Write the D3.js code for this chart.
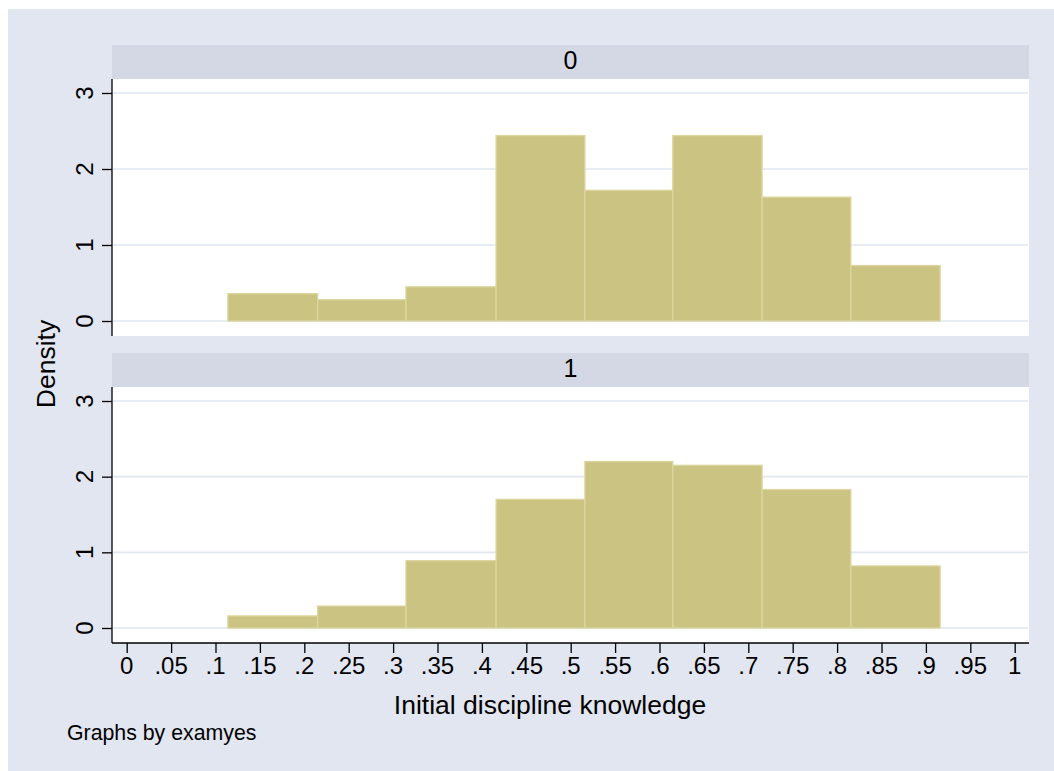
<!DOCTYPE html>
<html lang="en">
  <head>
    <meta charset="utf-8">
    <title>Histogram by examyes</title>
    <script src="https://d3js.org/d3.v7.min.js"></script>
    <style>
      body { margin: 0; background: white; }
      svg { display: block; font-family: "Liberation Sans", Arial, Helvetica, sans-serif; }
    </style>
  </head>
  <body>
    <script>
      // histogram bins (edges) and densities per examyes group
      const groups = ["0", "1"];
      const binEdges = [0.114, 0.215, 0.3145, 0.416, 0.516, 0.615, 0.7155, 0.8155, 0.916];
      const density0 = [0.36, 0.28, 0.45, 2.44, 1.72, 2.44, 1.63, 0.73];
      const density1 = [0.16, 0.29, 0.89, 1.70, 2.20, 2.15, 1.83, 0.82];
      const yTicks = [0, 1, 2, 3];
      const xTicks = [0, .05, .1, .15, .2, .25, .3, .35, .4, .45, .5, .55, .6, .65, .7, .75, .8, .85, .9, .95, 1];
      const xTickLabels = ["0", ".05", ".1", ".15", ".2", ".25", ".3", ".35", ".4", ".45", ".5", ".55", ".6", ".65", ".7", ".75", ".8", ".85", ".9", ".95", "1"];

      const width = 1054, height = 771;
      const plotLeft = 112, plotRight = 1029;
      const panels = [
        { label: groups[0], values: density0, headTop: 45, top: 79, bottom: 336 },
        { label: groups[1], values: density1, headTop: 353, top: 387, bottom: 643 }
      ];

      const svg = d3.select("body").append("svg")
                    .attr("width", width)
                    .attr("height", height);

      svg.append("rect")
         .attr("x", 8).attr("y", 9)
         .attr("width", width - 8).attr("height", height - 9)
         .attr("fill", "#e2e6f0");

      const x = d3.scaleLinear().domain([0, 1]).range([126.7, 1014.7]);

      panels.forEach((p) => {
        const y = d3.scaleLinear().domain([0, 3]).range([p.bottom - 15, p.top + 14]);

        // header strip
        svg.append("rect")
           .attr("x", plotLeft).attr("y", p.headTop)
           .attr("width", plotRight - plotLeft).attr("height", p.top - p.headTop)
           .attr("fill", "#d3d8e4");
        svg.append("text")
           .attr("x", (plotLeft + plotRight) / 2).attr("y", p.headTop + 24)
           .attr("text-anchor", "middle")
           .style("font-size", "25px")
           .text(p.label);

        // plot area
        svg.append("rect")
           .attr("x", plotLeft).attr("y", p.top)
           .attr("width", plotRight - plotLeft).attr("height", p.bottom - p.top)
           .attr("fill", "white");

        svg.append("g").selectAll("line").data(yTicks).enter().append("line")
           .attr("x1", plotLeft + 1).attr("x2", plotRight - 1)
           .attr("y1", (d) => y(d)).attr("y2", (d) => y(d))
           .attr("stroke", "#e1e6f0")
           .attr("stroke-width", 1.6);

        const bins = p.values.map((v, i) => ({ x0: binEdges[i], x1: binEdges[i + 1], v: v }));
        svg.append("g").selectAll("rect").data(bins).enter().append("rect")
           .attr("x", (d) => x(d.x0))
           .attr("width", (d) => x(d.x1) - x(d.x0))
           .attr("y", (d) => y(d.v))
           .attr("height", (d) => y(0) - y(d.v))
           .attr("fill", "#cbc381")
           .attr("stroke", "#dcd6a0")
           .attr("stroke-width", 1.3);

        // y axis
        const yAxis = svg.append("g")
           .attr("transform", `translate(${plotLeft},0)`)
           .call(d3.axisLeft(y).tickValues(yTicks).tickSize(10).tickFormat(""));
        yAxis.select(".domain").remove();
        yAxis.append("line")
             .attr("x1", 0).attr("x2", 0)
             .attr("y1", p.top).attr("y2", p.bottom)
             .attr("stroke", "black").attr("stroke-width", 1.3);
        yAxis.selectAll(".tick line").attr("stroke", "black").attr("stroke-width", 1.3);
        svg.append("g").selectAll("text").data(yTicks).enter().append("text")
           .attr("transform", (d) => `translate(93,${y(d)}) rotate(-90)`)
           .attr("text-anchor", "middle")
           .style("font-size", "24px")
           .text((d) => d);
      });

      // x axis at the bottom panel
      const last = panels[1];
      const xAxis = svg.append("g")
         .attr("transform", `translate(0,${last.bottom})`)
         .call(d3.axisBottom(x).tickValues(xTicks).tickSize(10).tickFormat(""));
      xAxis.select(".domain").remove();
      xAxis.append("line")
           .attr("x1", plotLeft).attr("x2", plotRight)
           .attr("stroke", "black").attr("stroke-width", 1.3);
      xAxis.selectAll(".tick line").attr("stroke", "black").attr("stroke-width", 1.3);
      svg.append("g").selectAll("text").data(xTicks).enter().append("text")
         .attr("x", (d) => x(d)).attr("y", 674)
         .attr("text-anchor", "middle")
         .style("font-size", "24px")
         .text((d, i) => xTickLabels[i]);

      svg.append("text")
         .attr("x", 550).attr("y", 714)
         .attr("text-anchor", "middle")
         .style("font-size", "26.5px")
         .text("Initial discipline knowledge");

      svg.append("text")
         .attr("transform", "translate(55,364) rotate(-90)")
         .attr("text-anchor", "middle")
         .style("font-size", "26.5px")
         .text("Density");

      svg.append("text")
         .attr("x", 67).attr("y", 740)
         .style("font-size", "21.3px")
         .text("Graphs by examyes");
    </script>
  </body>
</html>
